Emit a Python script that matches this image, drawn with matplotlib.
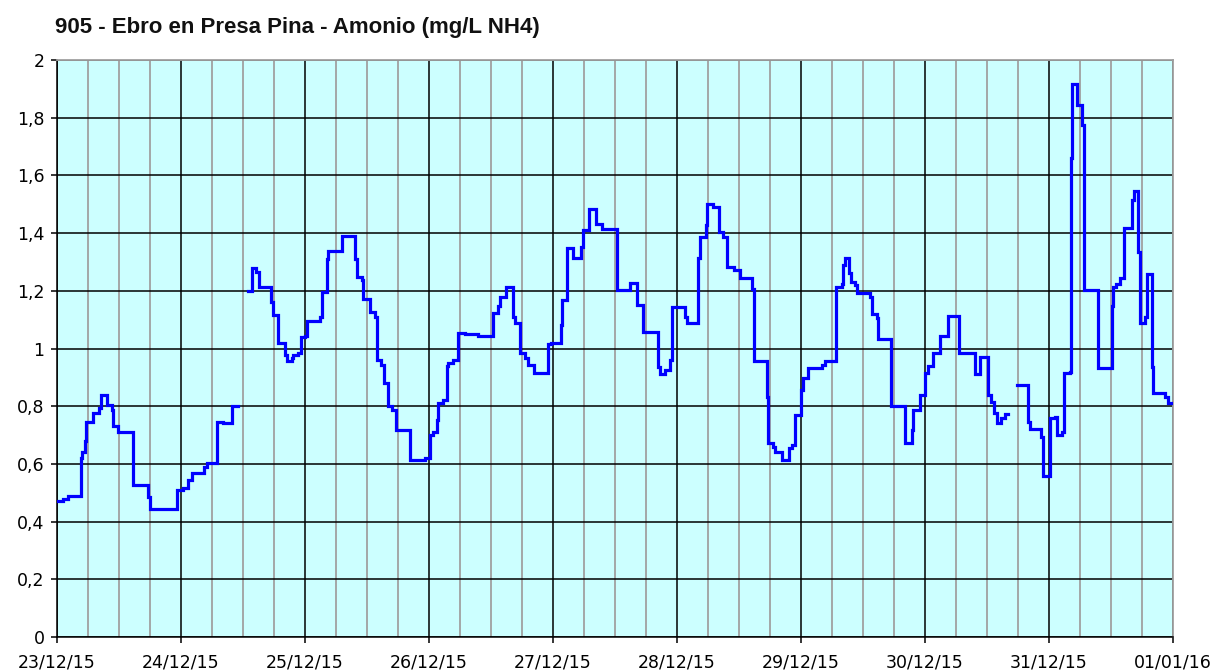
import numpy as np
import matplotlib
matplotlib.use("Agg")
import matplotlib.pyplot as plt

title = "905 - Ebro en Presa Pina - Amonio (mg/L NH4)"

# x labels: one per day (hours since 23/12/15 00:00)
day_labels = ["23/12/15", "24/12/15", "25/12/15", "26/12/15", "27/12/15",
              "28/12/15", "29/12/15", "30/12/15", "31/12/15", "01/01/16"]
y_ticks = [0, 0.2, 0.4, 0.6, 0.8, 1.0, 1.2, 1.4, 1.6, 1.8, 2.0]
y_labels = ["0", "0,2", "0,4", "0,6", "0,8", "1", "1,2", "1,4", "1,6", "1,8", "2"]

# segment 1 (step breakpoints: hour, value)
seg1_hours = [0, 1.2, 2.2, 4.6, 4.9, 5.4, 5.7, 7.0, 8.2, 8.6, 9.6, 10.6, 10.9, 11.9,
              14.8, 17.7, 18.0, 23.2, 24.4, 25.4, 26.1, 28.5, 29.0, 30.9, 32.2, 33.8, 35.1]
seg1_vals = [0.47, 0.477, 0.49, 0.62, 0.64, 0.68, 0.745, 0.775, 0.795, 0.84, 0.805, 0.787, 0.73, 0.712,
             0.527, 0.484, 0.445, 0.51, 0.515, 0.544, 0.57, 0.59, 0.602, 0.746, 0.741, 0.80, 0.80]

# segment 2
seg2_hours = [37.0, 37.7, 38.6, 39.0, 41.5, 41.9, 42.8, 44.1, 44.5, 45.4, 45.7, 46.7, 47.2, 48.0,
              48.3, 50.9, 51.2, 52.2, 52.5, 55.1, 57.7, 58.0, 59.0, 59.2, 60.6, 61.5, 61.9, 62.8,
              63.2, 64.1, 64.8, 65.6, 68.3, 71.2, 72.2, 72.8, 73.6, 73.8, 74.8, 75.4, 75.7, 76.7,
              77.7, 79.0, 81.5, 84.4, 85.4, 85.7, 87.0, 88.3, 88.6, 89.6, 90.6, 91.2, 92.4, 95.1,
              95.7, 97.5, 97.8, 98.8, 99.9, 101.4, 101.9, 103.0, 104.3, 105.4, 108.3, 111.0, 112.2,
              113.5, 116.4, 116.7, 117.7, 118.7, 119.0, 121.5, 121.9, 124.1, 124.5, 125.6, 125.9,
              126.9, 128.2, 129.0, 129.6, 129.7, 131.0, 132.1, 134.6, 134.9, 137.5, 137.7, 138.5,
              139.0, 140.3, 141.6, 142.2, 142.9, 144.0, 144.4, 145.4, 148.0, 148.7, 150.7, 151.9,
              152.2, 152.5, 153.3, 153.7, 154.4, 154.9, 157.4, 157.8, 158.8, 158.9, 161.4, 164.1,
              165.4, 165.7, 167.0, 168.0, 168.6, 169.6, 170.9, 172.4, 174.6, 177.7, 178.7, 180.2,
              180.7, 181.4, 181.9, 182.8, 183.5, 184.1]
seg2_vals = [1.20, 1.28, 1.266, 1.212, 1.162, 1.116, 1.018, 0.977, 0.958, 0.966, 0.977, 0.983, 1.039, 1.043,
             1.096, 1.108, 1.197, 1.309, 1.339, 1.39, 1.309, 1.247, 1.237, 1.172, 1.128, 1.108, 0.96, 0.943,
             0.881, 0.80, 0.787, 0.717, 0.614, 0.619, 0.70, 0.712, 0.752, 0.81, 0.822, 0.939, 0.949, 0.96,
             1.055, 1.05, 1.043, 1.124, 1.147, 1.18, 1.212, 1.11, 1.087, 0.983, 0.966, 0.943, 0.914, 1.016,
             1.018, 1.081, 1.168, 1.347, 1.313, 1.353, 1.411, 1.482, 1.432, 1.413, 1.203, 1.228, 1.151,
             1.058, 0.937, 0.912, 0.925, 0.96, 1.145, 1.11, 1.087, 1.313, 1.388, 1.428, 1.501,
             1.492, 1.405, 1.388, 1.336, 1.281, 1.272, 1.243, 1.205, 0.958, 0.833, 0.671, 0.658,
             0.642, 0.614, 0.654, 0.666, 0.77, 0.856, 0.897, 0.931, 0.943, 0.958, 1.214, 1.224,
             1.289, 1.313, 1.261, 1.232, 1.22, 1.191, 1.177, 1.12, 1.105, 1.032, 0.80, 0.671,
             0.717, 0.787, 0.839, 0.914, 0.939, 0.983, 1.043, 1.113, 0.983, 0.912, 0.969, 0.839,
             0.816, 0.775, 0.741, 0.758, 0.773, 0.773]

# segment 3
seg3_hours = [185.9, 188.0, 188.3, 190.5, 190.9, 192.2, 193.1, 193.5, 194.5, 194.9, 196.1, 196.3,
              196.5, 197.4, 198.4, 198.8, 201.5, 204.1, 204.4, 205.0, 205.7, 206.5, 208.0, 208.5,
              209.3, 209.6, 210.5, 211.0, 211.9, 212.2, 214.5, 215.0, 215.6]
seg3_vals = [0.873, 0.746, 0.72, 0.694, 0.558, 0.758, 0.761, 0.70, 0.712, 0.914, 0.92, 1.659,
             1.917, 1.844, 1.775, 1.203, 0.931, 1.147, 1.214, 1.224, 1.243, 1.416, 1.515, 1.547,
             1.336, 1.087, 1.11, 1.258, 0.937, 0.847, 0.833, 0.81, 0.81]

W, H = 1217, 672
fig = plt.figure(figsize=(W / 100, H / 100), dpi=100)
ax = fig.add_axes([57 / W, 1 - 637 / H, (1173 - 57) / W, (637 - 60) / H])
ax.set_facecolor("#CCFFFF")

n_days = len(day_labels) - 1
ax.set_xlim(0, 24 * n_days)
ax.set_ylim(0, 2)

ax.set_xticks([24 * i for i in range(len(day_labels))])
ax.set_xticklabels(day_labels)
ax.set_xticks(np.arange(0, 24 * n_days + 1, 6), minor=True)
ax.set_yticks(y_ticks)
ax.set_yticklabels(y_labels)

ax.grid(which="minor", axis="x", color="#A0A0A0", linewidth=1.3, zorder=0)
ax.grid(which="major", axis="x", color="black", linewidth=1.1, zorder=1)
ax.grid(which="major", axis="y", color="black", linewidth=1.1, zorder=1)
ax.set_axisbelow(True)

ax.tick_params(axis="both", which="major", direction="out", length=4, width=1.1,
               colors="black", labelsize=12.5)
ax.tick_params(axis="x", which="major", pad=8)
ax.tick_params(axis="y", which="major", pad=5)
ax.tick_params(axis="x", which="minor", length=0)

for s in ["left", "bottom"]:
    ax.spines[s].set_color("black")
    ax.spines[s].set_linewidth(1.1)
for s in ["top", "right"]:
    ax.spines[s].set_color("#A0A0A0")
    ax.spines[s].set_linewidth(1.3)

for hrs, vals in [(seg1_hours, seg1_vals), (seg2_hours, seg2_vals), (seg3_hours, seg3_vals)]:
    ax.plot(hrs, vals, drawstyle="steps-post", color="#0000FF", linewidth=2.3,
            solid_joinstyle="miter", zorder=3)

fig.text(55 / W, 1 - 28 / H, title, fontsize=16, fontweight="bold",
         family="Liberation Sans", ha="left", va="center", color="#111111")

fig.savefig("out.png", dpi=100)
